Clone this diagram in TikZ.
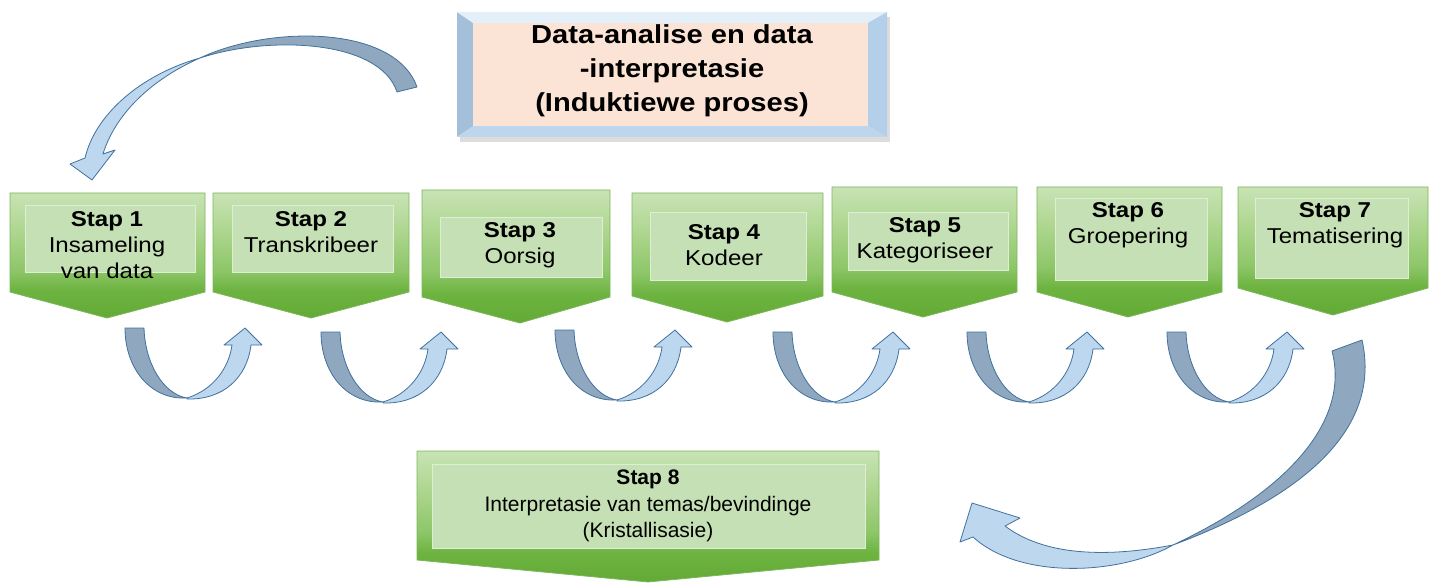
\documentclass[tikz,border=0pt]{standalone}
\usepackage{fontspec}
\setmainfont{Liberation Sans}
\newfontfamily\stapfont{Liberation Sans}[FakeStretch=1.12]
\usetikzlibrary{calc}

\definecolor{pijldonker}{HTML}{8FA7BF}
\definecolor{pijllig}{HTML}{BDD7EE}
\definecolor{pijlrand}{HTML}{41719C}
\definecolor{groena}{HTML}{C8E3B5}
\definecolor{groenb}{HTML}{AED68F}
\definecolor{groenc}{HTML}{8DC668}
\definecolor{groend}{HTML}{6DB340}
\definecolor{groene}{HTML}{62AA35}
\definecolor{groenbinne}{HTML}{C5E0B4}
\definecolor{groenrand}{HTML}{7DB75A}
\definecolor{perske}{HTML}{FBE3D6}
\definecolor{randlinks}{HTML}{A3BFD9}
\definecolor{randbo}{HTML}{E3EFF9}
\definecolor{randregs}{HTML}{B3CFEA}
\definecolor{randonder}{HTML}{BDD6EE}

\pgfdeclareverticalshading{stapgroen}{100bp}{color(0bp)=(groene); color(25bp)=(groene); color(36bp)=(groend); color(44bp)=(groenc); color(60bp)=(groenb); color(75bp)=(groena); color(100bp)=(groena)}

\begin{document}
\begin{tikzpicture}[x=1pt, y=-1pt, font=\stapfont]
	\tikzset	{
		chev/.style={draw=groenrand, line width=0.8pt, shading=stapgroen},
		binne/.style={draw=groena!60!white, line width=0.8pt, fill=groenbinne},
		pyl/.style={draw=pijlrand, line width=0.8pt, line join=round},
		staptxt/.style={anchor=north, inner sep=0pt, align=center, font=\stapfont\fontsize{21.5}{26}\selectfont},
		uarrow/.pic={
			code={
				\draw[pyl, fill=pijldonker]	(0,0) -- (19,0) .. controls (20,35) and (38,66) .. (62,70) .. controls (25,72) and (0,40) .. (0,0) -- cycle;
				\draw[pyl, fill=pijllig]	(62,70) .. controls (88,62) and (104,40) .. (107,17) -- (99,17) -- (120,0) -- (137,17) -- (126,17) .. controls (122,50) and (98,72) .. (62,71) -- cycle;
			}
		},
	}
	\useasboundingbox (0,0) rectangle (1433,583);

	% kop
	\fill[black!30, opacity=0.45]	(460,17) rectangle (890,142);
	\fill[randlinks]	(457,12) -- (473,23) -- (473,126) -- (457,137) -- cycle;
	\fill[randbo]		(457,12) -- (887,12) -- (868,23) -- (473,23) -- cycle;
	\fill[randregs]		(887,12) -- (887,137) -- (868,126) -- (868,23) -- cycle;
	\fill[randonder]	(457,137) -- (887,137) -- (868,126) -- (473,126) -- cycle;
	\fill[perske]		(473,23) rectangle (868,126);
	\node[anchor=north, inner sep=0pt, align=center, font=\stapfont\fontsize{26}{34}\selectfont\bfseries] (kop) at (672,24)
		{Data-analise en data\\-interpretasie\\(Induktiewe proses)};

	% stappe
	\foreach \xa/\xb/\yt/\ys/\xp/\yp in {10/205/193/292/107/318, 213/409/193/292/311/318, 422/610/190/297/520/323, 632/823/193/296/727/322, 832/1017/187/292/923/317, 1037/1222/187/292/1128/317, 1238/1428/187/288/1333/315, 417/879/451/560/648/582} {
		\path[chev]	(\xa,\yt) -- (\xb,\yt) -- (\xb,\ys) -- (\xp,\yp) -- (\xa,\ys) -- cycle;
	}
	\foreach \xa/\ya/\xb/\yb in {25/205/195/272, 232/205/393/272, 440/217/602/277, 650/212/806/280, 848/212/1008/270, 1055/198/1207/280, 1255/198/1408/278, 432/464/865/548} {
		\path[binne]	(\xa,\ya) rectangle (\xb,\yb);
	}
	\foreach \n/\x/\y/\t in {1/107/211/{Insameling\\van data}, 2/311/211/Transkribeer, 3/520/222/Oorsig, 4/724/224/Kodeer, 5/925/217/Kategoriseer, 6/1128/202/Groepering, 7/1335/202/Tematisering} {
		\node[staptxt] (s\n) at (\x,\y) {\textbf{Stap \n}\\\t};
	}
	\node[staptxt, font=\rmfamily\fontsize{21}{26.5}\selectfont] (s8) at (648,470)
		{\textbf{Stap 8}\\Interpretasie van temas/bevindinge\\(Kristallisasie)};

	% pyle
	\foreach \x/\y in {125/328, 321/332, 555/330, 773/332, 967/332, 1167/332} {
		\pic at (\x,\y) {uarrow};
	}
	\draw[pyl, fill=pijldonker]	(397,92) -- (417,87) .. controls (395,25) and (270,25) .. (200,58) .. controls (270,35) and (380,40) .. (397,92) -- cycle;
	\draw[pyl, fill=pijllig]	(200,58) .. controls (140,75) and (95,115) .. (85,158) -- (70,164) -- (92,180) -- (115,150) -- (103,154) .. controls (115,115) and (150,80) .. (200,58) -- cycle;
	\draw[pyl, fill=pijldonker]	(1332,351) -- (1362,340) .. controls (1380,420) and (1320,490) .. (1173,545) .. controls (1290,490) and (1350,420) .. (1332,351) -- cycle;
	\draw[pyl, fill=pijllig]	(1173,545) .. controls (1120,575) and (1020,580) .. (973,537) -- (960,542) -- (972,503) -- (1020,518) -- (1005,526) .. controls (1050,560) and (1120,555) .. (1173,545) -- cycle;
\end{tikzpicture}
\end{document}
